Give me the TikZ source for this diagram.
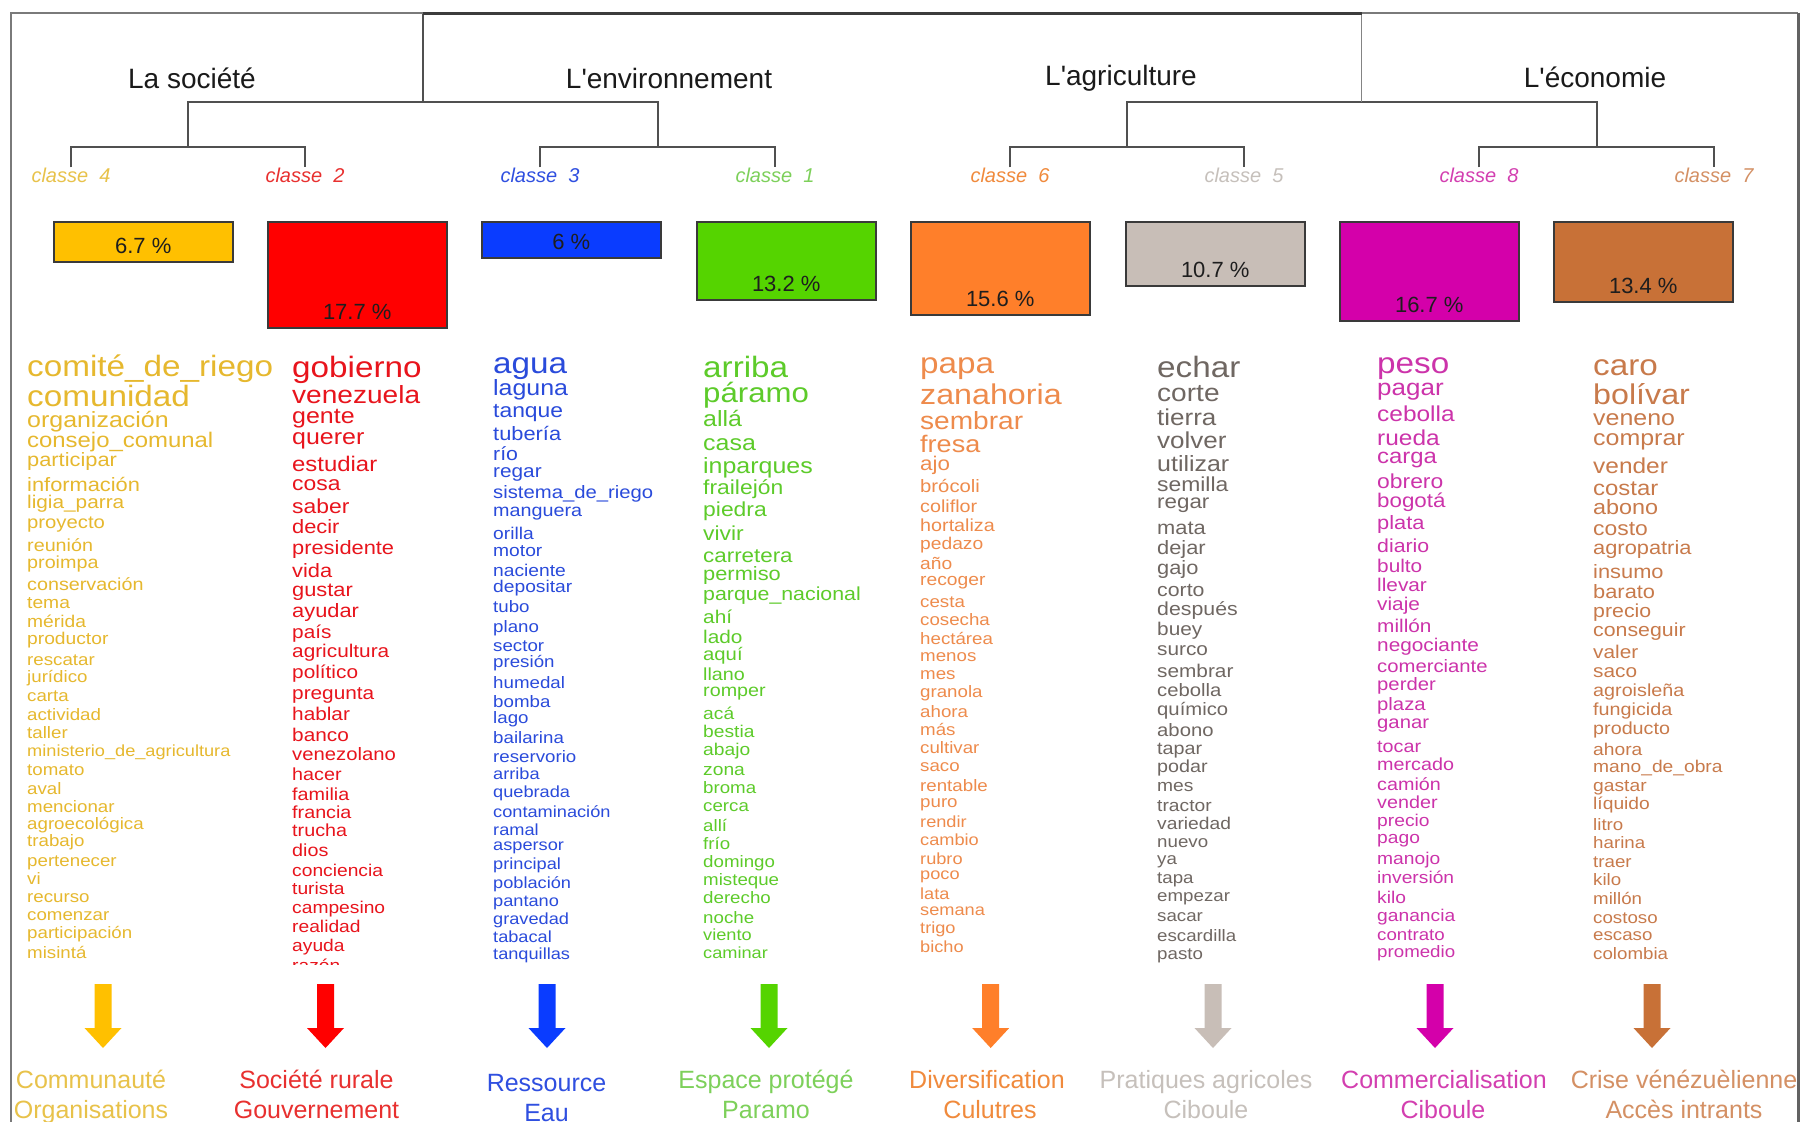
\documentclass[tikz,border=0pt]{standalone}
\usepackage{graphicx}
\usepackage{fontspec}
\setmainfont{Liberation Sans}
\definecolor{framecol}{HTML}{7A7A7A}
\definecolor{treeline}{HTML}{505050}
\definecolor{topbar}{HTML}{3C3C3C}
\definecolor{boxline}{HTML}{3A3A3A}
\definecolor{pcttext}{HTML}{1E1E1E}
\definecolor{headtext}{HTML}{1A1A1A}
\definecolor{c4box}{HTML}{FFC000}\definecolor{c4txt}{HTML}{E6B82E}\definecolor{c4lab}{HTML}{E8C24A}
\definecolor{c2box}{HTML}{FF0000}\definecolor{c2txt}{HTML}{E8141C}\definecolor{c2lab}{HTML}{E8302F}
\definecolor{c3box}{HTML}{0A3CFF}\definecolor{c3txt}{HTML}{2A4BDB}\definecolor{c3lab}{HTML}{2F4FE0}
\definecolor{c1box}{HTML}{55D400}\definecolor{c1txt}{HTML}{5DCB2A}\definecolor{c1lab}{HTML}{7DD05A}
\definecolor{c6box}{HTML}{FF7F2A}\definecolor{c6txt}{HTML}{EE8B4C}\definecolor{c6lab}{HTML}{F08A3C}
\definecolor{c5box}{HTML}{C8BEB7}\definecolor{c5txt}{HTML}{6F6762}\definecolor{c5lab}{HTML}{C6C0BB}
\definecolor{c8box}{HTML}{D400AA}\definecolor{c8txt}{HTML}{CC33AA}\definecolor{c8lab}{HTML}{D33FB0}
\definecolor{c7box}{HTML}{C87137}\definecolor{c7txt}{HTML}{C87A4B}\definecolor{c7lab}{HTML}{D49064}
\tikzset{
 word/.style={anchor=base west, inner sep=0pt},
 tree/.style={draw=treeline, line width=2pt},
 pbox/.style={draw=boxline, line width=1.5pt, anchor=north west, minimum width=179pt, inner sep=0pt},
 ptext/.style={anchor=base, inner sep=0pt, text=pcttext, font=\fontsize{22}{22}\selectfont},
 clabel/.style={anchor=base, inner sep=0pt, font=\fontsize{20}{20}\selectfont\itshape},
 heading/.style={anchor=base, inner sep=0pt, text=headtext, font=\fontsize{28}{28}\selectfont},
 blabel/.style={anchor=base, inner sep=0pt, font=\fontsize{25}{25}\selectfont},
 downarrow/.pic={\fill[#1] (-8.5,0) -- (8.5,0) -- (8.5,44) -- (18.5,44) -- (0,64) -- (-18.5,44) -- (-8.5,44) -- cycle;}
}
\newcommand{\wordcol}[4]{%
  \foreach \s/\y/\w [count=\i] in {#4} {%
    \pgfmathsetmacro\fsz{0.92*\s}%
    \node[word, text=#3, font=\fontsize{\fsz}{\fsz}\selectfont] (#1-\i) at (#2, {\y+0.26*\fsz}) {\scalebox{1.13}[1]{\w}};
  }%
}
\begin{document}
\begin{tikzpicture}[x=1pt,y=-1pt]
\useasboundingbox (0,0) rectangle (1800,1122);
\fill[white] (0,0) rectangle (1800,1122);
% frame
\draw[draw=framecol, line width=2pt] (11,1130) -- (11,12.5) -- (1798,12.5);
\draw[draw=framecol!80!black, line width=3pt] (1798,12.5) -- (1798,1130);
% headings
\node[heading] (hsoc) at (192,88) {La société};
\node[heading] (henv) at (669,88) {L\textquotesingle environnement};
\node[heading] (hagr) at (1121,85) {L\textquotesingle agriculture};
\node[heading] (heco) at (1595,87) {L\textquotesingle économie};
% class labels
\node[clabel, text=c4lab] (cl4) at (71,182) {classe~~4};
\node[clabel, text=c2lab] (cl2) at (305,182) {classe~~2};
\node[clabel, text=c3lab] (cl3) at (540,182) {classe~~3};
\node[clabel, text=c1lab] (cl1) at (775,182) {classe~~1};
\node[clabel, text=c6lab] (cl6) at (1010,182) {classe~~6};
\node[clabel, text=c5lab] (cl5) at (1244,182) {classe~~5};
\node[clabel, text=c8lab] (cl8) at (1479,182) {classe~~8};
\node[clabel, text=c7lab] (cl7) at (1714,182) {classe~~7};
% dendrogram
\coordinate (j1) at (188,147); \coordinate (j2) at (657.5,147);
\coordinate (j3) at (1127,147); \coordinate (j4) at (1596.5,147);
\coordinate (k1) at (422.5,102); \coordinate (k2) at (1361.5,102);
\coordinate (t1) at (422.5,13.5); \coordinate (t2) at (1361.5,13.5);
\draw[tree] (cl4.north) |- (j1) -| (cl2.north);
\draw[tree] (cl3.north) |- (j2) -| (cl1.north);
\draw[tree] (cl6.north) |- (j3) -| (cl5.north);
\draw[tree] (cl8.north) |- (j4) -| (cl7.north);
\draw[tree] (j1) |- (k1) -| (j2);
\draw[tree] (j3) |- (k2) -| (j4);
\draw[tree] (k1) -- (t1);
\draw[draw=treeline!70, line width=1.5pt] (k2) -- (t2);
\draw[draw=topbar, line width=3.5pt] (t1) -- (t2);
% percentage boxes
\node[pbox, fill=c4box, minimum height=40pt]  (b4) at (53,221) {};
\node[pbox, fill=c2box, minimum height=106pt] (b2) at (267,221) {};
\node[pbox, fill=c3box, minimum height=36pt]  (b3) at (481,221) {};
\node[pbox, fill=c1box, minimum height=78pt]  (b1) at (696,221) {};
\node[pbox, fill=c6box, minimum height=93pt]  (b6) at (910,221) {};
\node[pbox, fill=c5box, minimum height=64pt]  (b5) at (1125,221) {};
\node[pbox, fill=c8box, minimum height=99pt]  (b8) at (1339,221) {};
\node[pbox, fill=c7box, minimum height=80pt]  (b7) at (1553,221) {};
\node[ptext] (p4) at ([yshift=9pt]b4.south) {6.7 \%};
\node[ptext] (p2) at ([yshift=9pt]b2.south) {17.7 \%};
\node[ptext] (p3) at ([yshift=9pt]b3.south) {6 \%};
\node[ptext] (p1) at ([yshift=9pt]b1.south) {13.2 \%};
\node[ptext] (p6) at ([yshift=9pt]b6.south) {15.6 \%};
\node[ptext] (p5) at ([yshift=9pt]b5.south) {10.7 \%};
\node[ptext] (p8) at ([yshift=9pt]b8.south) {16.7 \%};
\node[ptext] (p7) at ([yshift=9pt]b7.south) {13.4 \%};
% word lists
\begin{scope}
\clip (0,340) rectangle (1800,964);
\wordcol{w4}{27}{c4txt}{32/368.5/comité\_de\_riego,32/399/comunidad,24/421.5/organización,23/441.5/consejo\_comunal,21/461.5/participar,21/486/información,20/504/ligia\_parra,19.5/523.5/proyecto,19/547/reunión,19/564/proimpa,19/585.5/conservación,18.5/604.5/tema,18.5/622.8/mérida,18.5/640.5/productor,18/661/rescatar,18/678/jurídico,18/697.5/carta,18/716.5/actividad,18/734/taller,17.5/752/ministerio\_de\_agricultura,18/771.6/tomato,18/790.2/aval,18/808.2/mencionar,18/825/agroecológica,18/842.5/trabajo,18/861.7/pertenecer,18/880.5/vi,18/898/recurso,18/916/comenzar,18/934.5/participación,18/954/misintá}
\wordcol{w2}{292}{c2txt}{32/369.5/gobierno,27/397.5/venezuela,24/417.5/gente,24/438.5/querer,23/465.5/estudiar,22/485.5/cosa,22/508.3/saber,21/528.3/decir,21/549.5/presidente,21/572.3/vida,21/591.5/gustar,21/612.3/ayudar,20/633.5/país,20/652.7/agricultura,20/673.5/político,20/694.3/pregunta,20/715.5/hablar,20/736.3/banco,19.5/756.3/venezolano,19/775.5/hacer,19/795.5/familia,19/814.3/francia,19/832.3/trucha,19/852.3/dios,18.5/872.3/conciencia,18.5/890.3/turista,18.5/909.5/campesino,18.5/928.3/realidad,18.5/946.7/ayuda,18.5/967.5/razón}
\wordcol{w3}{493}{c3txt}{32/365.5/agua,24/389.5/laguna,22/412.3/tanque,21/435.5/tubería,20.5/455.5/río,20/472.3/regar,19.5/493.5/sistema\_de\_riego,19/511.5/manguera,18.5/534.7/orilla,18.5/552.3/motor,18.5/572.3/naciente,18.5/588.3/depositar,18/608.3/tubo,18/628.3/plano,18/647.5/sector,18/663.5/presión,18/684.3/humedal,18/702.7/bomba,18/719.5/lago,18/739.5/bailarina,18/758.3/reservorio,17.5/775.5/arriba,17.5/793.5/quebrada,17.5/813.5/contaminación,17.5/831.5/ramal,17.5/846.7/aspersor,17.5/865.5/principal,17.5/884.3/población,17.5/902.7/pantano,17.5/920.3/gravedad,17.5/938.7/tabacal,17.5/955.5/tanquillas}
\wordcol{w1}{703}{c1txt}{32/369.5/arriba,30/395.5/páramo,24/420.3/allá,24/444.3/casa,24/467.5/inparques,22/489.5/frailejón,22/511.5/piedra,22/535.5/vivir,21.5/557.5/carretera,21/575.5/permiso,20.5/595.5/parque\_nacional,20/618.7/ahí,20/638.7/lado,19.5/656.3/aquí,19/675.5/llano,19/692.3/romper,18.5/714.7/acá,18.5/733.5/bestia,18.5/751.5/abajo,18.5/770.7/zona,18/789.5/broma,18/807.5/cerca,18/827.5/allí,18/845.5/frío,18/863.5/domingo,18/881.5/misteque,18/899.5/derecho,18/918.7/noche,17.5/936.7/viento,17.5/954.3/caminar}
\wordcol{w6}{920}{c6txt}{32/365.5/papa,31/397.5/zanahoria,27/423.5/sembrar,26/446.7/fresa,21.5/465.5/ajo,19.5/487.5/brócoli,19/507.5/coliflor,19/526.7/hortaliza,18.5/545.5/pedazo,18.5/564.7/año,18.5/581.5/recoger,18/603.5/cesta,18/621.5/cosecha,18/640.3/hectárea,18/657.5/menos,18/674.7/mes,18/693.5/granola,18/713.5/ahora,18/731.5/más,18/749.5/cultivar,18/767.5/saco,18/786.7/rentable,18/803.5/puro,17.5/823.5/rendir,17.5/841.5/cambio,17.5/860.3/rubro,17.5/875.5/poco,17.5/895.5/lata,17.5/911.5/semana,17.5/929.5/trigo,17.5/948.3/bicho}
\wordcol{w5}{1157}{c5txt}{32/369.5/echar,27/395.5/corte,25/419.5/tierra,25/442.7/volver,24/465.5/utilizar,22/486.7/semilla,21.5/503.5/regar,21/529.5/mata,21/549.5/dejar,21/569.5/gajo,20.5/591.5/corto,20.5/610.7/después,20/630.7/buey,20/650.7/surco,20/672.3/sembrar,19.5/691.5/cebolla,19.5/710.7/químico,19.5/731.5/abono,19/749.5/tapar,19/768.3/podar,18.5/787.5/mes,18.5/806.7/tractor,18.5/825.5/variedad,18/843.5/nuevo,18/860.3/ya,18/879.5/tapa,18/897.5/empezar,18/917.5/sacar,18/937.5/escardilla,18/954.7/pasto}
\wordcol{w8}{1377}{c8txt}{32/365.5/peso,25/389.5/pagar,23.5/416.3/cebolla,23.5/439.5/rueda,23/457.5/carga,22/483.5/obrero,21.5/502.7/bogotá,21/524.3/plata,20.5/547.5/diario,20/567.5/bulto,20/586.3/llevar,20/605.5/viaje,20/627.5/millón,20/646.7/negociante,19.5/667.5/comerciante,19.5/685.5/perder,19.5/705.5/plaza,19.5/723.5/ganar,19/747.5/tocar,19/766.3/mercado,19/785.5/camión,19/804.3/vender,18.5/822.3/precio,18.5/839.5/pago,18.5/860.3/manojo,18.5/879.5/inversión,18.5/898.7/kilo,18.5/917.5/ganancia,18/936.3/contrato,18/953.5/promedio}
\wordcol{w7}{1593}{c7txt}{32/367.5/caro,31/397.5/bolívar,24/419.5/veneno,24/439.5/comprar,23.5/467.5/vender,23/489.5/costar,22.5/509.5/abono,22/530.7/costo,21/549.5/agropatria,21/573.5/insumo,21/593.5/barato,20.5/612.3/precio,20.5/631.5/conseguir,20/653.5/valer,20/672.3/saco,19/691.5/agroisleña,19/710.7/fungicida,19/729.5/producto,18.5/751.5/ahora,18.5/768.3/mano\_de\_obra,18.5/786.7/gastar,18.5/805.5/líquido,18/826.3/litro,18/844.3/harina,18/862.7/traer,18/881.5/kilo,18/900.3/millón,18/919.5/costoso,18/936.3/escaso,18/954.7/colombia}
\end{scope}
% arrows
\pic (a4) at (103,984) {downarrow=c4box};
\pic (a2) at (325.5,984) {downarrow=c2box};
\pic (a3) at (547,984) {downarrow=c3box};
\pic (a1) at (769,984) {downarrow=c1box};
\pic (a6) at (990.7,984) {downarrow=c6box};
\pic (a5) at (1213,984) {downarrow=c5box};
\pic (a8) at (1435,984) {downarrow=c8box};
\pic (a7) at (1652,984) {downarrow=c7box};
% bottom labels
\node[blabel, text=c4lab] (l4a) at (91,1088) {Communauté};
\node[blabel, text=c4lab] (l4b) at (91,1118) {Organisations};
\node[blabel, text=c2lab] (l2a) at (316.5,1088) {Société rurale};
\node[blabel, text=c2lab] (l2b) at (316.5,1118) {Gouvernement};
\node[blabel, text=c3lab] (l3a) at (546.5,1091) {Ressource};
\node[blabel, text=c3lab] (l3b) at (546.5,1121) {Eau};
\node[blabel, text=c1lab] (l1a) at (766,1088) {Espace protégé};
\node[blabel, text=c1lab] (l1b) at (766,1118) {Paramo};
\node[blabel, text=c6lab] (l6a) at (987,1088) {Diversification};
\node[blabel, text=c6lab] (l6b) at (990,1118) {Culutres};
\node[blabel, text=c5lab] (l5a) at (1206,1088) {Pratiques agricoles};
\node[blabel, text=c5lab] (l5b) at (1206,1118) {Ciboule};
\node[blabel, text=c8lab] (l8a) at (1444,1088) {Commercialisation};
\node[blabel, text=c8lab] (l8b) at (1443,1118) {Ciboule};
\node[blabel, text=c7lab] (l7a) at (1684,1088) {Crise vénézuèlienne};
\node[blabel, text=c7lab] (l7b) at (1684,1118) {Accès intrants};
\end{tikzpicture}
\end{document}
